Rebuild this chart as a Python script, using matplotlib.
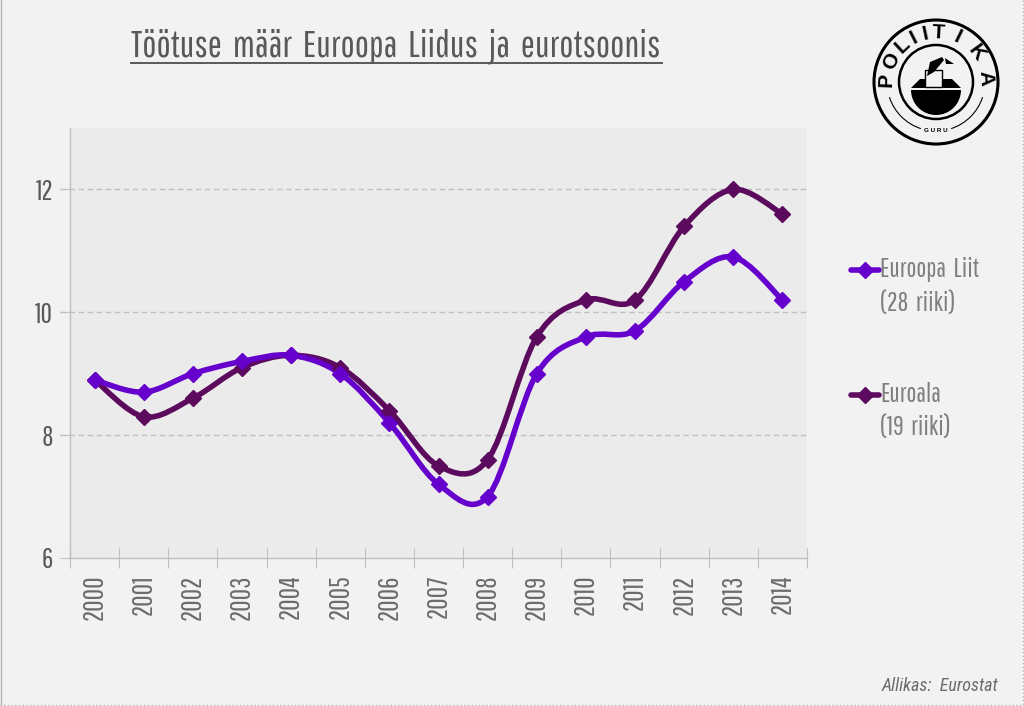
import numpy as np
import matplotlib
matplotlib.use("Agg")
import matplotlib.pyplot as plt
from matplotlib.path import Path
from matplotlib.patches import PathPatch, Circle, Arc, Polygon, Rectangle, Wedge

years = [2000, 2001, 2002, 2003, 2004, 2005, 2006, 2007, 2008, 2009, 2010, 2011, 2012, 2013, 2014]
eu28 = [8.9, 8.7, 9.0, 9.2, 9.3, 9.0, 8.2, 7.2, 7.0, 9.0, 9.6, 9.7, 10.5, 10.9, 10.2]
euro19 = [8.9, 8.3, 8.6, 9.1, 9.3, 9.1, 8.4, 7.5, 7.6, 9.6, 10.2, 10.2, 11.4, 12.0, 11.6]
yticks = [6, 8, 10, 12]

title = "Töötuse  määr  Euroopa  Liidus  ja  eurotsoonis"
source = "Allikas:  Eurostat"
logo_word = "POLIITIKA"
col_eu = "#6600cc"
col_euro = "#5c0a5e"
grey = "#7f7f7f"
bg = "#f2f2f2"

plt.rcParams['font.family'] = ['Pathway Gothic One', 'Roboto Condensed', 'DejaVu Sans']
W, H = 1024, 706
fig = plt.figure(figsize=(W/100, H/100), dpi=100, facecolor=bg)
ax = fig.add_axes([70/W, 1-558/H, 737/W, 430/H], facecolor="#ebebeb")


def smooth(ax, xs, ys, color):
    # excel style smoothed line, bezier through the points
    xs = np.array(xs, float)
    ys = np.array(ys, float)
    pts = np.column_stack([xs, ys])
    verts = [pts[0]]
    codes = [Path.MOVETO]
    for i in range(len(pts)-1):
        p0 = pts[max(i-1, 0)]
        p1 = pts[i]
        p2 = pts[i+1]
        p3 = pts[min(i+2, len(pts)-1)]
        verts += [p1+(p2-p0)/6, p2-(p3-p1)/6, p2]
        codes += [Path.CURVE4]*3
    ax.add_patch(PathPatch(Path(verts, codes), fc="none", ec=color, lw=4, capstyle="round", zorder=3))
    ax.plot(xs, ys, ls="none", marker="D", ms=8.5, color=color, zorder=4)


x = np.arange(len(years))
smooth(ax, x, euro19, col_euro)
smooth(ax, x, eu28, col_eu)

ax.set_xlim(-0.5, len(years)-0.5)
ax.set_ylim(6, 13)
for s in ["top", "right"]:
    ax.spines[s].set_visible(False)
for s in ["left", "bottom"]:
    ax.spines[s].set_color("#bfbfbf")
    ax.spines[s].set_linewidth(1)
ax.set_yticks(yticks)
ax.set_yticklabels([str(v) for v in yticks], fontsize=20, color="#595959")
ax.tick_params(axis="y", length=7.2, width=0.8, color="#bfbfbf", pad=5)
ax.set_xticks(x)
ax.set_xticklabels([str(v) for v in years], rotation=90, fontsize=20, color="#6b6b6b")
ax.tick_params(axis="x", length=0, pad=12)
ax.set_xticks(np.arange(-0.5, len(years)), minor=True)
ax.tick_params(axis="x", which="minor", length=14.4, width=0.8, color="#bfbfbf", direction="inout")
for v in yticks[1:]:
    ax.plot([-0.7, 14.5], [v, v], color="#c0c0c0", lw=1, ls=(0, (4, 2.5)), clip_on=False, zorder=1)

# overlay in pixel coords for title, legend, logo
ov = fig.add_axes([0, 0, 1, 1], facecolor="none")
ov.set_xlim(0, W)
ov.set_ylim(H, 0)
ov.axis("off")

ov.text(396, 46, title, ha="center", va="center", fontsize=27, color="#595959")
ov.plot([131, 662], [63, 63], color="#595959", lw=1.4)
ov.text(998, 686, source, ha="right", va="center", fontsize=13, style="italic", color="#6b6b6b",
        family=['Roboto Condensed', 'DejaVu Sans'])

ov.plot([851, 879], [270, 270], color=col_eu, lw=4, solid_capstyle="round")
ov.plot([865], [270], marker="D", ms=8.5, color=col_eu)
ov.text(880, 270, "Euroopa  Liit", va="center", fontsize=19, color=grey)
ov.text(880, 304, "(28  riiki)", va="center", fontsize=19, color=grey)
ov.plot([851, 879], [395, 395], color=col_euro, lw=4, solid_capstyle="round")
ov.plot([865], [395], marker="D", ms=8.5, color=col_euro)
ov.text(880, 394, "Euroala", va="center", fontsize=19, color=grey)
ov.text(880, 428, "(19  riiki)", va="center", fontsize=19, color=grey)

# frame
ov.plot([0.5, 0.5], [0, H], color="#b5b5b5", lw=1)
ov.plot([0, W], [H-1, H-1], color="#b5b5b5", lw=1, ls=":")
ov.plot([W-1, W-1], [0, H], color="#b5b5b5", lw=1, ls=":")

# logo
cx, cy = 936, 82
ov.add_patch(Circle((cx, cy), 62, fc="none", ec="black", lw=2.2))
ov.add_patch(Circle((cx, cy), 37, fc="none", ec="black", lw=1.8))
angles = [178, 155, 133, 117, 102, 87, 64, 36, 4]
for ch, a in zip(logo_word, angles):
    r = np.radians(a)
    ov.text(cx+49.5*np.cos(r), cy-49.5*np.sin(r), ch, rotation=a-90, ha="center", va="center",
            rotation_mode="anchor", fontsize=15, fontweight="bold", color="black", family="Liberation Sans")
ov.add_patch(Arc((cx, cy), 98, 98, theta1=18, theta2=72, color="black", lw=0.8))
ov.add_patch(Arc((cx, cy), 98, 98, theta1=108, theta2=162, color="black", lw=0.8))
ov.text(cx, cy+49, "G U R U", ha="center", va="center", fontsize=4.5, fontweight="bold", color="black",
        family="Liberation Sans")
ov.add_patch(Wedge((cx, 90), 25, 0, 180, fc="black", ec="none", zorder=2))
ov.add_patch(Polygon([[cx-25, 88], [cx-16, 79], [cx+16, 79], [cx+25, 88]], fc="black", ec="none", zorder=3))
ov.add_patch(Rectangle((cx-11, 70), 17, 17, fc=bg, ec="black", lw=1, zorder=4))
ov.add_patch(Polygon([[cx-9, 76], [cx-6, 62], [cx+6, 57], [cx+8, 60], [cx-2, 72]], fc="black", ec="none", zorder=5))
ov.add_patch(Polygon([[cx+9, 58], [cx+18, 64], [cx+10, 64]], fc="black", ec="none", zorder=5))

fig.savefig("out.png", dpi=100, facecolor=bg)
